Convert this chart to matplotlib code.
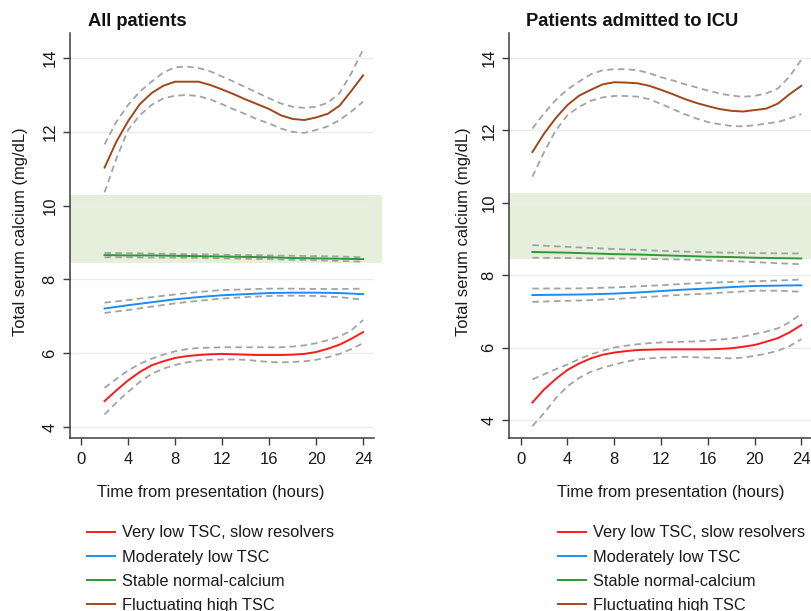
import matplotlib
matplotlib.use("Agg")
import matplotlib.pyplot as plt
from matplotlib.patches import Rectangle
import matplotlib.transforms as mtransforms

plt.rcParams['font.family'] = ['Liberation Sans', 'DejaVu Sans']

# ---------------- data ----------------
titles = ["All patients", "Patients admitted to ICU"]
labels = ["Very low TSC, slow resolvers", "Moderately low TSC",
          "Stable normal-calcium", "Fluctuating high TSC"]
x_ticks = [0, 4, 8, 12, 16, 20, 24]
y_ticks = [4, 6, 8, 10, 12, 14]
normal_band = (8.45, 10.28)

# Left panel: all patients
hours_left = list(range(2, 25))
hours_left_2h = list(range(2, 25, 2))
red_left = [4.70, 4.99, 5.26, 5.49, 5.67, 5.78, 5.87, 5.92, 5.95, 5.97, 5.98, 5.97,
            5.96, 5.95, 5.95, 5.95, 5.96, 5.98, 6.03, 6.12, 6.23, 6.39, 6.57]
red_left_hi = [5.06, 5.30, 5.53, 5.71, 5.85, 5.96, 6.05, 6.11, 6.14, 6.15, 6.16, 6.16,
               6.16, 6.16, 6.16, 6.16, 6.18, 6.21, 6.27, 6.35, 6.45, 6.62, 6.90]
red_left_lo = [4.34, 4.66, 4.95, 5.22, 5.44, 5.58, 5.68, 5.75, 5.80, 5.82, 5.83, 5.83,
               5.82, 5.79, 5.76, 5.75, 5.76, 5.78, 5.82, 5.89, 5.98, 6.11, 6.27]
blue_left = [7.21, 7.30, 7.38, 7.46, 7.52, 7.57, 7.60, 7.63, 7.64, 7.64, 7.63, 7.60]
blue_left_hi = [7.37, 7.44, 7.52, 7.59, 7.66, 7.71, 7.73, 7.75, 7.75, 7.74, 7.74, 7.75]
blue_left_lo = [7.09, 7.17, 7.26, 7.35, 7.42, 7.48, 7.52, 7.55, 7.56, 7.55, 7.52, 7.45]
green_left = [8.66, 8.65, 8.65, 8.64, 8.63, 8.62, 8.61, 8.60, 8.58, 8.57, 8.56, 8.55]
green_left_hi = [8.72, 8.71, 8.70, 8.69, 8.68, 8.67, 8.66, 8.65, 8.64, 8.63, 8.62, 8.60]
green_left_lo = [8.60, 8.60, 8.59, 8.59, 8.58, 8.57, 8.56, 8.55, 8.53, 8.52, 8.50, 8.48]
brown_left = [11.03, 11.73, 12.29, 12.75, 13.05, 13.25, 13.36, 13.36, 13.36, 13.27, 13.15, 13.02,
              12.88, 12.75, 12.62, 12.45, 12.35, 12.32, 12.39, 12.49, 12.71, 13.11, 13.53]
brown_left_hi = [11.66, 12.27, 12.73, 13.09, 13.36, 13.61, 13.75, 13.77, 13.73, 13.64, 13.50, 13.36,
                 13.21, 13.06, 12.91, 12.77, 12.68, 12.65, 12.68, 12.79, 13.05, 13.59, 14.23]
brown_left_lo = [10.36, 11.27, 12.05, 12.45, 12.73, 12.91, 12.98, 13.00, 12.97, 12.88, 12.75, 12.61,
                 12.48, 12.34, 12.23, 12.09, 12.00, 11.97, 12.05, 12.15, 12.32, 12.55, 12.82]

# Right panel: patients admitted to ICU
hours_right = list(range(1, 25))
hours_right_2h = [1, 4, 6, 8, 10, 12, 14, 16, 18, 20, 22, 24]
red_right = [4.48, 4.84, 5.13, 5.38, 5.56, 5.70, 5.80, 5.86, 5.90, 5.93, 5.94, 5.95,
             5.95, 5.95, 5.95, 5.95, 5.96, 5.98, 6.02, 6.07, 6.16, 6.26, 6.42, 6.62]
red_right_hi = [5.12, 5.26, 5.40, 5.53, 5.68, 5.81, 5.91, 6.00, 6.05, 6.09, 6.12, 6.14,
                6.15, 6.16, 6.17, 6.19, 6.22, 6.25, 6.30, 6.37, 6.44, 6.53, 6.70, 6.93]
red_right_lo = [3.83, 4.19, 4.60, 4.93, 5.16, 5.33, 5.44, 5.53, 5.61, 5.67, 5.70, 5.72,
                5.73, 5.74, 5.73, 5.72, 5.71, 5.70, 5.72, 5.77, 5.83, 5.91, 6.04, 6.23]
blue_right = [7.45, 7.46, 7.47, 7.49, 7.52, 7.56, 7.60, 7.63, 7.67, 7.70, 7.71, 7.72]
blue_right_hi = [7.63, 7.63, 7.64, 7.66, 7.69, 7.72, 7.76, 7.79, 7.81, 7.83, 7.85, 7.88]
blue_right_lo = [7.26, 7.29, 7.31, 7.34, 7.38, 7.42, 7.46, 7.49, 7.53, 7.57, 7.57, 7.54]
green_right = [8.64, 8.62, 8.60, 8.58, 8.57, 8.55, 8.53, 8.51, 8.50, 8.48, 8.47, 8.46]
green_right_hi = [8.83, 8.78, 8.75, 8.72, 8.70, 8.67, 8.65, 8.63, 8.62, 8.61, 8.60, 8.60]
green_right_lo = [8.48, 8.47, 8.46, 8.46, 8.45, 8.44, 8.43, 8.41, 8.39, 8.36, 8.33, 8.30]
brown_right = [11.40, 11.91, 12.34, 12.70, 12.96, 13.12, 13.27, 13.33, 13.32, 13.30, 13.23, 13.12,
               13.00, 12.87, 12.76, 12.67, 12.59, 12.54, 12.52, 12.56, 12.60, 12.74, 13.00, 13.23]
brown_right_hi = [12.05, 12.47, 12.84, 13.13, 13.35, 13.55, 13.66, 13.69, 13.69, 13.66, 13.58, 13.47,
                  13.38, 13.28, 13.19, 13.10, 13.02, 12.96, 12.93, 12.95, 13.02, 13.16, 13.49, 13.95]
brown_right_lo = [10.72, 11.40, 12.00, 12.42, 12.65, 12.82, 12.91, 12.95, 12.95, 12.93, 12.86, 12.73,
                  12.59, 12.45, 12.33, 12.23, 12.17, 12.12, 12.11, 12.14, 12.19, 12.23, 12.33, 12.45]

colors = ["#FF1A1A", "#1E8CF0", "#2E9A35", "#A0471A"]
ci_color = "#A3A3A3"
band_color = "#E6EEDC"
grid_color = "#E6EEF1"
spine_color = "#3C3C3C"

panels = [
    dict(title=titles[0], pos=[70, 33, 304, 405], xlim=(-0.94, 24.93), ylim=(3.70, 14.68),
         band_right=1.026,
         series=[(hours_left, red_left, red_left_hi, red_left_lo),
                 (hours_left_2h, blue_left, blue_left_hi, blue_left_lo),
                 (hours_left_2h, green_left, green_left_hi, green_left_lo),
                 (hours_left, brown_left, brown_left_hi, brown_left_lo)],
         title_x=88, xlabel_x=211, ylabel_x=21, leg_x=87),
    dict(title=titles[1], pos=[509, 33, 304, 405], xlim=(-1.0, 25.0), ylim=(3.50, 14.69),
         band_right=1.05,
         series=[(hours_right, red_right, red_right_hi, red_right_lo),
                 (hours_right_2h, blue_right, blue_right_hi, blue_right_lo),
                 (hours_right_2h, green_right, green_right_hi, green_right_lo),
                 (hours_right, brown_right, brown_right_hi, brown_right_lo)],
         title_x=526, xlabel_x=671, ylabel_x=464, leg_x=558),
]

W, H = 812, 611
fig = plt.figure(figsize=(W / 100, H / 100), dpi=100)
fig.patch.set_facecolor("white")

for p in panels:
    x0, ytop, w, h = p["pos"]
    ax = fig.add_axes([x0 / W, 1 - (ytop + h) / H, w / W, h / H])
    ax.set_xlim(*p["xlim"])
    ax.set_ylim(*p["ylim"])
    ax.set_facecolor("none")
    # normal-range band
    trans = mtransforms.blended_transform_factory(ax.transAxes, ax.transData)
    ax.add_patch(Rectangle((0, normal_band[0]), p["band_right"], normal_band[1] - normal_band[0],
                           transform=trans, facecolor=band_color, edgecolor="none",
                           zorder=0, clip_on=False))
    for yt in y_ticks:
        ax.axhline(yt, color=grid_color, lw=1.0, zorder=0.5)
    handles = []
    for (xs, mid, hi, lo), c in zip(p["series"], colors):
        ax.plot(xs, hi, color=ci_color, lw=1.3, dashes=(3.6, 2.4), zorder=2)
        ax.plot(xs, lo, color=ci_color, lw=1.3, dashes=(3.6, 2.4), zorder=2)
        ln, = ax.plot(xs, mid, color=c, lw=1.4, zorder=3)
        handles.append(ln)
    ax.set_xticks(x_ticks)
    ax.set_yticks(y_ticks)
    ax.set_yticklabels([str(v) for v in y_ticks], rotation=90, va="center")
    ax.tick_params(axis="both", labelsize=12, length=5, width=1.0, color=spine_color,
                   labelcolor="#1A1A1A", direction="out")
    ax.tick_params(axis="y", pad=4)
    ax.tick_params(axis="x", pad=5)
    for s in ["top", "right"]:
        ax.spines[s].set_visible(False)
    for s in ["left", "bottom"]:
        ax.spines[s].set_color(spine_color)
        ax.spines[s].set_linewidth(1.1)

    fig.text(p["title_x"] / W, 1 - 22 / H, p["title"], fontsize=13.2, fontweight="bold",
             ha="left", va="center", color="#111111")
    fig.text(p["xlabel_x"] / W, 1 - 493 / H, "Time from presentation (hours)", fontsize=11.9,
             ha="center", va="center", color="#1A1A1A")
    fig.text(p["ylabel_x"] / W, 1 - 232 / H, "Total serum calcium (mg/dL)", fontsize=11.9,
             ha="center", va="center", rotation=90, color="#1A1A1A")
    ax.legend(handles, labels, loc="upper left",
              bbox_to_anchor=(p["leg_x"] / W, 1 - 525.5 / H), bbox_transform=fig.transFigure,
              frameon=False, fontsize=11.8, handlelength=1.7, handletextpad=0.45,
              labelspacing=0.55, borderpad=0, borderaxespad=0, labelcolor="#1A1A1A")

fig.savefig("out.png", dpi=100, facecolor="white")
